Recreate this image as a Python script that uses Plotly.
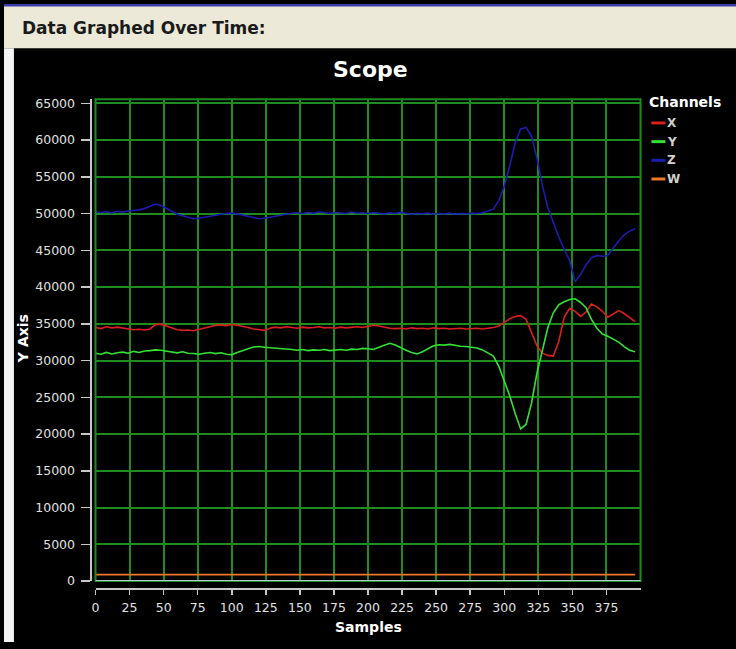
import plotly.graph_objects as go

W_PX, H_PX = 736, 649

# ---------------- data ----------------
samples = list(range(0, 400, 4))
x_ticks = [0, 25, 50, 75, 100, 125, 150, 175, 200, 225, 250, 275, 300, 325, 350, 375]
y_ticks = [0, 5000, 10000, 15000, 20000, 25000, 30000, 35000, 40000, 45000,
           50000, 55000, 60000, 65000]
channel_names = ["X", "Y", "Z", "W"]
channel_colors = ["#dc1e1e", "#34e034", "#1c1cb0", "#f07828"]

ch_x = [34500, 34350, 34600, 34450, 34550, 34400,
        34300, 34200, 34250, 34150, 34300,
        34900, 34950,
        34700, 34500,
        34200, 34100, 34150, 34050, 34200,
        34400, 34600,
        34800, 34850, 34750, 34900, 34800, 34700,
        34500, 34300, 34150, 34100,
        34400, 34550, 34450, 34600, 34500, 34400, 34550, 34450, 34500, 34600,
        34450, 34500, 34400, 34550, 34450, 34500, 34600, 34500, 34700,
        34800, 34700, 34500, 34400, 34350, 34400, 34300, 34450, 34350, 34400,
        34300, 34450, 34350, 34400, 34300, 34350, 34400, 34300, 34350, 34400,
        34300, 34350, 34500, 34700,
        35200, 35700, 36000, 36100, 35600, 33800, 32000, 31000, 30700, 30600,
        32600, 35900, 37100, 36700, 36000, 36600, 37700, 37300, 36700, 35900,
        36300, 36800, 36400, 35800, 35300]

ch_y = [31000, 30850, 31100, 30900, 31050, 31150, 31000, 31250, 31100, 31300,
        31350, 31450, 31400, 31300, 31150, 31050, 31200, 31000, 30950, 30850,
        31000, 31100, 30950, 31050, 30850, 30800, 31100, 31400, 31600, 31850,
        31900, 31800, 31750, 31650, 31700, 31550, 31500, 31400, 31500, 31350,
        31450, 31400, 31500, 31350, 31450, 31500, 31400, 31550, 31500, 31650,
        31600, 31500, 31800, 32100, 32350, 32100, 31700, 31400, 31100, 30900,
        31200, 31600, 32000, 32150, 32100, 32200, 32050, 31950, 31900, 31800,
        31700, 31450, 31050, 30600, 29200, 27300, 25200, 22800, 20700, 21300,
        24200, 28300, 31500, 34500, 36500, 37600, 38000, 38300, 38400, 37900,
        37200, 35600, 34400, 33600, 33300, 32900, 32500, 31900, 31400, 31200]

ch_z = [50200, 50150, 50250, 50100, 50300, 50200, 50350, 50400, 50500, 50700,
        51000, 51300, 51100, 50700, 50200, 49900, 49700, 49500, 49300, 49350,
        49500, 49700, 49800, 49900, 50000, 50050, 49950, 49800, 49600, 49400,
        49300, 49350, 49500, 49650, 49800, 50000, 50050, 50100, 50000, 50150,
        50050, 50200, 50100, 50000, 50150, 50100, 50000, 50200, 50050, 50100,
        50000, 50150, 50050, 49950, 50100, 50000, 50150, 50050, 49900, 50000,
        49950, 50050, 49900, 50000, 49950, 50050, 49900, 50000, 49950, 50050,
        50000, 50100, 50300, 50600, 51800, 53700, 56500, 59600, 61500, 61700,
        60500, 57500, 53800, 50800, 48800, 46800, 45100, 43600, 40700, 41700,
        43000, 44000, 44300, 44200, 44300, 45300, 46300, 47100, 47600, 47950]

ch_w = [880, 880, 885, 880, 875, 880, 880, 885, 880, 880,
        880, 875, 880, 880, 885, 880, 880, 880, 875, 880,
        880, 885, 880, 880, 880, 875, 880, 880, 885, 880,
        880, 880, 875, 880, 880, 885, 880, 880, 880, 875,
        880, 880, 885, 880, 880, 880, 875, 880, 880, 885,
        880, 880, 880, 875, 880, 880, 885, 880, 880, 880,
        875, 880, 880, 885, 880, 880, 880, 875, 880, 880,
        885, 880, 880, 880, 875, 880, 880, 885, 880, 880,
        880, 875, 880, 880, 885, 880, 880, 880, 875, 880,
        880, 885, 880, 880, 880, 875, 880, 880, 885, 880]

channel_values = [ch_x, ch_y, ch_z, ch_w]


def fx(px):
    return px / W_PX


def fy(py):
    return 1 - py / H_PX


GRID = "#1f8c1f"
AXIS = "#c8c8c8"
TICKTXT = "#e0e0e0"
FONT = "DejaVu Sans"

fig = go.Figure()
for name, vals, col in zip(channel_names, channel_values, channel_colors):
    fig.add_trace(go.Scatter(x=samples, y=vals, mode="lines", name=name,
                             line=dict(color=col, width=1.6), showlegend=False))

fig.update_layout(
    width=W_PX, height=H_PX, autosize=False,
    margin=dict(l=0, r=0, t=0, b=0),
    paper_bgcolor="#000000", plot_bgcolor="#000000",
    showlegend=False,
    xaxis=dict(domain=[fx(92), fx(640)], range=[0, 400], tickvals=x_ticks,
               tickformat="d",
               showgrid=True, gridcolor=GRID, gridwidth=2, zeroline=False,
               showline=True, linecolor=AXIS, linewidth=2,
               ticks="outside", ticklen=5, tickwidth=1.5, tickcolor=AXIS,
               anchor="free", position=fy(595), ticklabelstandoff=2,
               tickfont=dict(family=FONT, size=12.5, color=TICKTXT)),
    yaxis=dict(domain=[fy(587), fy(97)], range=[0, 65535], tickvals=y_ticks,
               tickformat="d",
               showgrid=True, gridcolor=GRID, gridwidth=2, zeroline=False,
               showline=True, linecolor=AXIS, linewidth=2,
               ticks="outside", ticklen=9, tickwidth=1.5, tickcolor=AXIS,
               anchor="free", position=fx(87), ticklabelstandoff=3,
               tickfont=dict(family=FONT, size=12.5, color=TICKTXT)),
)

shapes = [
    # header band
    dict(type="rect", xref="paper", yref="paper", x0=0, x1=1, y0=fy(45), y1=1,
         fillcolor="#ece9d8", line=dict(width=0), layer="below"),
    dict(type="rect", xref="paper", yref="paper", x0=0, x1=1, y0=fy(2.5), y1=1,
         fillcolor="#3c3ca4", line=dict(width=0), layer="below"),
    # left white strip
    dict(type="rect", xref="paper", yref="paper", x0=0, x1=fx(10), y0=0, y1=fy(45),
         fillcolor="#f4f4f4", line=dict(width=0), layer="below"),
    # plot border
    dict(type="rect", xref="x domain", yref="y domain", x0=0, x1=1, y0=0, y1=1,
         line=dict(color=GRID, width=2), layer="above"),
    # zero line
    dict(type="line", xref="x domain", yref="y", x0=0, x1=1, y0=0, y1=0,
         line=dict(color="#b4c8d8", width=2), layer="above"),
]

annotations = [
    dict(text="Data Graphed Over Time:", x=fx(16), y=fy(24), xref="paper", yref="paper",
         xanchor="left", yanchor="middle", showarrow=False,
         font=dict(family=FONT, size=17, color="#1a1a1a", weight="bold")),
    dict(text="<b>Scope</b>", x=fx(368), y=fy(67), xref="paper", yref="paper",
         xanchor="center", yanchor="middle", showarrow=False,
         font=dict(family=FONT, size=22, color="#ffffff")),
    dict(text="<b>Y Axis</b>", x=fx(19), y=fy(340), xref="paper", yref="paper",
         xanchor="center", yanchor="middle", showarrow=False, textangle=-90,
         font=dict(family=FONT, size=14, color="#ffffff")),
    dict(text="<b>Samples</b>", x=fx(366), y=fy(634), xref="paper", yref="paper",
         xanchor="center", yanchor="middle", showarrow=False,
         font=dict(family=FONT, size=14, color="#ffffff")),
    dict(text="<b>Channels</b>", x=fx(647), y=fy(100), xref="paper", yref="paper",
         xanchor="left", yanchor="middle", showarrow=False,
         font=dict(family=FONT, size=14, color="#ffffff")),
]

legend_y = [121, 140, 159, 178]
for name, col, ly in zip(channel_names, channel_colors, legend_y):
    shapes.append(dict(type="line", xref="paper", yref="paper",
                       x0=fx(651), x1=fx(665), y0=fy(ly), y1=fy(ly),
                       line=dict(color=col, width=3)))
    annotations.append(dict(text="<b>" + name + "</b>", x=fx(665), y=fy(ly),
                            xref="paper", yref="paper",
                            xanchor="left", yanchor="middle", showarrow=False,
                            font=dict(family=FONT, size=12, color="#d0d0d0")))

fig.update_layout(shapes=shapes, annotations=annotations)

page_css = (
    "var s=document.createElement('style');"
    "s.textContent='html,body{margin:0 !important;padding:0 !important;"
    "overflow:hidden !important;background:#000;}';"
    "document.head.appendChild(s);"
)

fig.write_html(
    "out.html",
    config={"displayModeBar": False, "staticPlot": True},
    post_script=page_css,
)
